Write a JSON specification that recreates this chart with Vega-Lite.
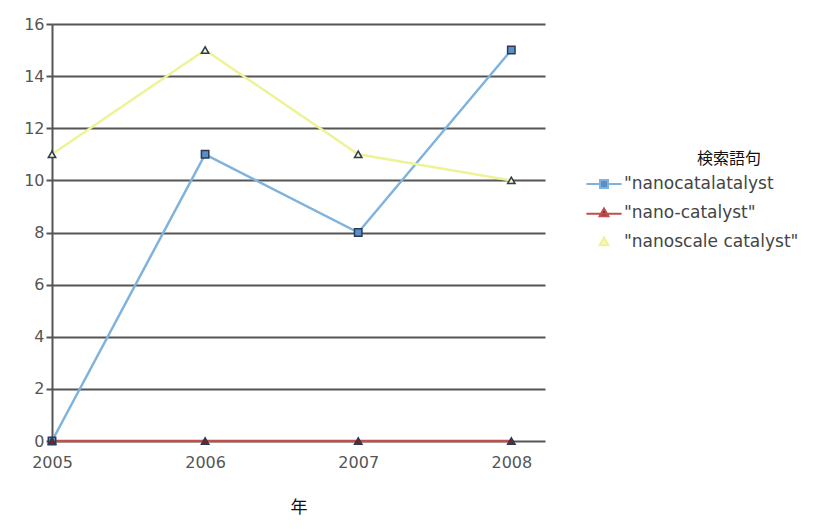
{
  "$schema": "https://vega.github.io/schema/vega-lite/v6.json",
  "width": 493,
  "height": 417,
  "autosize": {"type": "none"},
  "padding": {"left": 52, "top": 24, "right": 280, "bottom": 88},
  "background": "white",
  "config": {
    "view": {"stroke": null},
    "font": "DejaVu Sans"
  },
  "data": {
    "values": [
      {"year": 2005, "term": "\"nanocatalatalyst", "count": 0},
      {"year": 2006, "term": "\"nanocatalatalyst", "count": 11},
      {"year": 2007, "term": "\"nanocatalatalyst", "count": 8},
      {"year": 2008, "term": "\"nanocatalatalyst", "count": 15},
      {"year": 2005, "term": "\"nano-catalyst\"", "count": 0},
      {"year": 2006, "term": "\"nano-catalyst\"", "count": 0},
      {"year": 2007, "term": "\"nano-catalyst\"", "count": 0},
      {"year": 2008, "term": "\"nano-catalyst\"", "count": 0},
      {"year": 2005, "term": "\"nanoscale catalyst\"", "count": 11},
      {"year": 2006, "term": "\"nanoscale catalyst\"", "count": 15},
      {"year": 2007, "term": "\"nanoscale catalyst\"", "count": 11},
      {"year": 2008, "term": "\"nanoscale catalyst\"", "count": 10}
    ]
  },
  "encoding": {
    "x": {
      "field": "year",
      "type": "quantitative",
      "scale": {"domain": [2005, 2008.22], "nice": false, "zero": false},
      "axis": {
        "values": [2005, 2006, 2007, 2008],
        "format": "d",
        "grid": false,
        "ticks": false,
        "domain": false,
        "labelFontSize": 16,
        "labelColor": "#555555",
        "labelPadding": 13,
        "labelFlush": false,
        "title": "年",
        "titleFont": "Noto Sans CJK JP",
        "titleFontSize": 17,
        "titleFontWeight": "normal",
        "titleColor": "#111111",
        "titlePadding": 29
      }
    },
    "y": {
      "field": "count",
      "type": "quantitative",
      "scale": {"domain": [0, 16], "nice": false},
      "axis": {
        "values": [0, 2, 4, 6, 8, 10, 12, 14, 16],
        "grid": true,
        "gridColor": "#555555",
        "gridWidth": 2,
        "gridOpacity": 1,
        "domain": true,
        "domainColor": "#555555",
        "domainWidth": 2,
        "ticks": true,
        "tickSize": 6,
        "tickColor": "#555555",
        "tickWidth": 2,
        "labelFontSize": 16,
        "labelColor": "#555555",
        "labelPadding": 2,
        "title": null
      }
    }
  },
  "layer": [
    {
      "mark": {"type": "line", "strokeWidth": 2.5},
      "encoding": {
        "color": {
          "field": "term",
          "type": "nominal",
          "sort": ["\"nanocatalatalyst", "\"nano-catalyst\"", "\"nanoscale catalyst\""],
          "scale": {
            "domain": ["\"nanocatalatalyst", "\"nano-catalyst\"", "\"nanoscale catalyst\""],
            "range": ["#7fb3de", "#c0504d", "#eef396"]
          },
          "legend": {
            "title": "検索語句",
            "orient": "none",
            "legendX": 543,
            "legendY": 127,
            "titleFont": "Noto Sans CJK JP",
            "titleFontSize": 16,
            "titleFontWeight": "normal",
            "titleColor": "#111111",
            "titleAnchor": "middle",
            "titleAlign": "left",
            "titlePadding": 8,
            "labelFontSize": 17,
            "labelColor": "#444444",
            "labelOffset": 11,
            "labelLimit": 300,
            "rowPadding": 12,
            "symbolStrokeWidth": 2,
            "symbolSize": 256
          }
        }
      }
    },
    {
      "transform": [{"filter": "datum.term == '\"nanocatalatalyst'"}],
      "mark": {"type": "point", "shape": "square", "filled": true, "size": 55, "stroke": "#2b3b55", "strokeWidth": 1.5, "opacity": 1},
      "encoding": {
        "fill": {
          "field": "term",
          "type": "nominal",
          "scale": {
            "domain": ["\"nanocatalatalyst", "\"nano-catalyst\"", "\"nanoscale catalyst\""],
            "range": ["#5b8fc7", "#8b1c1c", "#f7f7c0"]
          }
        }
      }
    },
    {
      "transform": [{"filter": "datum.term != '\"nanocatalatalyst'"}],
      "mark": {"type": "point", "shape": "triangle-up", "filled": true, "size": 55, "stroke": "#2b3b55", "strokeWidth": 1.5, "opacity": 1},
      "encoding": {
        "fill": {
          "field": "term",
          "type": "nominal",
          "scale": {
            "domain": ["\"nanocatalatalyst", "\"nano-catalyst\"", "\"nanoscale catalyst\""],
            "range": ["#5b8fc7", "#8b1c1c", "#f7f7c0"]
          }
        }
      }
    },
    {
      "transform": [{"filter": "datum.count < 0"}],
      "mark": {"type": "point", "filled": true, "strokeWidth": 2},
      "encoding": {
        "color": {"field": "term", "type": "nominal"},
        "fill": {"field": "term", "type": "nominal"},
        "shape": {
          "field": "term",
          "type": "nominal",
          "scale": {
            "domain": ["\"nanocatalatalyst", "\"nano-catalyst\"", "\"nanoscale catalyst\""],
            "range": [
              "M-2.2,0H-0.5M0.5,0H2.2M-0.5,-0.5H0.5V0.5H-0.5Z",
              "M-2.2,0.1H2.2M0,-0.55L0.55,0.4H-0.55Z",
              "M0,-0.55L0.55,0.4H-0.55Z"
            ]
          }
        }
      }
    }
  ]
}
